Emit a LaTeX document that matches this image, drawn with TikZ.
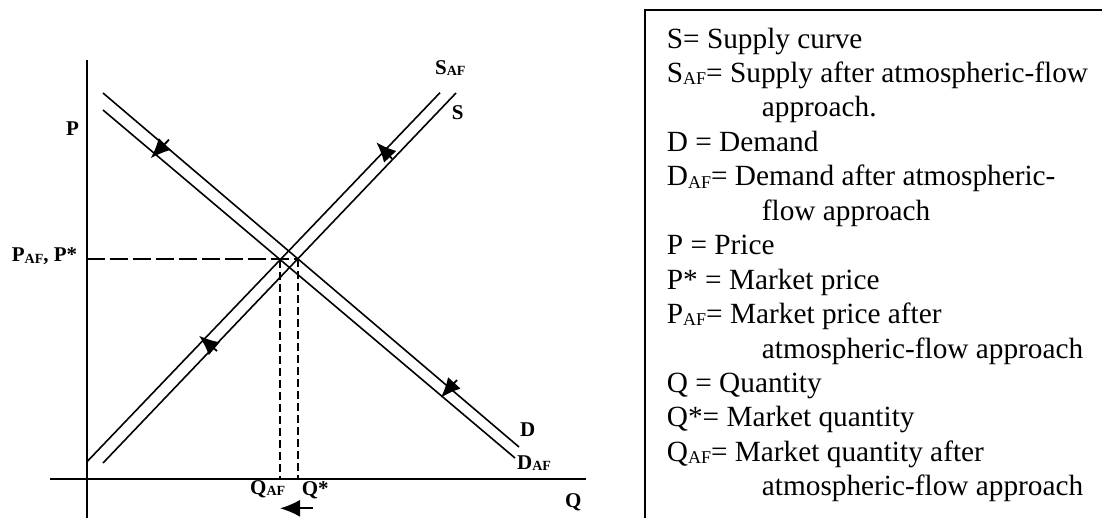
\documentclass[tikz,border=0pt]{standalone}
\usepackage{fontspec}
\setmainfont{Liberation Serif}
\usetikzlibrary{arrows.meta}
\newcommand{\legAF}{\raisebox{-2.3pt}{\fontsize{18}{18}\selectfont AF}}
\newcommand{\grAF}{\raisebox{-1.5pt}{\fontsize{14}{14}\selectfont\bfseries AF}}
\begin{document}
\begin{tikzpicture}[x=1pt,y=-1pt,
  curve/.style={line width=1.6pt},
  axisline/.style={line width=2pt},
  guide/.style={line width=1.6pt, dash pattern=on 8pt off 4pt},
  pguide/.style={line width=2.4pt, dash pattern=on 18pt off 5pt},
  shiftarrow/.style={line width=1.8pt,-{Latex[length=20pt,width=17pt]}},
  glabel/.style={inner sep=0pt, anchor=base west, font=\fontsize{21}{21}\selectfont\bfseries},
  legline/.style={inner sep=0pt, anchor=base west, font=\fontsize{29.3}{34.45}\selectfont}]
\useasboundingbox (0,0) rectangle (1102,517);
\clip (0,0) rectangle (1102,517);

% axes
\coordinate (ytop) at (86.7,60);
\coordinate (ybot) at (86.7,520);
\coordinate (xleft) at (50,479);
\coordinate (xright) at (586,479);
\draw[axisline] (ytop) -- (ybot);
\draw[axisline] (xleft) -- (xright);

% curves
\coordinate (D1) at (103,93);    \coordinate (D2) at (519,447);
\coordinate (DA1) at (103,110);  \coordinate (DA2) at (515,458);
\coordinate (S1) at (103,463);   \coordinate (S2) at (456,93);
\coordinate (SA1) at (87,461.7); \coordinate (SA2) at (440,92.7);
\draw[curve] (D1) -- (D2);
\draw[curve] (DA1) -- (DA2);
\draw[curve] (S1) -- (S2);
\draw[curve] (SA1) -- (SA2);

% equilibria
\coordinate (E) at (intersection of S1--S2 and D1--D2);
\coordinate (EA) at (intersection of SA1--SA2 and DA1--DA2);
\coordinate (pax) at (ytop |- E);
\draw[pguide] (pax) -- (E);
\draw[guide] (E) -- (E |- xleft);
\draw[guide] (EA) -- (EA |- xleft);

% shift arrows
\coordinate (a1t) at (169,139.7);  \coordinate (a1h) at (150.7,158.3);
\coordinate (a2t) at (457,380);    \coordinate (a2h) at (440.8,397.7);
\coordinate (a3t) at (392,158.7);  \coordinate (a3h) at (376.3,142.3);
\coordinate (a4t) at (217,351);    \coordinate (a4h) at (199,335.7);
\coordinate (a5t) at (313,508.3);  \coordinate (a5h) at (280,508.3);
\draw[shiftarrow] (a1t) -- (a1h);
\draw[shiftarrow] (a2t) -- (a2h);
\draw[shiftarrow] (a3t) -- (a3h);
\draw[shiftarrow] (a4t) -- (a4h);
\draw[shiftarrow] (a5t) -- (a5h);

% graph labels
\node[glabel] (lP) at (66,135) {P};
\node[glabel] (lPAF) at (11.7,261.5) {P\grAF, P*};
\node[glabel] (lSAF) at (435,74) {S\grAF};
\node[glabel] (lS) at (451.7,119) {S};
\node[glabel] (lD) at (520,436.5) {D};
\node[glabel] (lDAF) at (517,469) {D\grAF};
\node[glabel] (lQ) at (565,507) {Q};
\node[glabel] (lQAF) at (250,494) {Q\grAF};
\node[glabel] (lQs) at (301.7,495) {Q*};

% legend box
\draw[axisline] (645,530) |- (1120,10);
\node[legline] (g1) at (666.7,48) {S= Supply curve};
\node[legline] (g2) at (666.7,82.45) {S\legAF= Supply after atmospheric-flow};
\node[legline] (g3) at (761.7,116.9) {approach.};
\node[legline] (g4) at (666.7,151.35) {D = Demand};
\node[legline] (g5) at (666.7,185.8) {D\legAF= Demand after atmospheric-};
\node[legline] (g6) at (761.7,220.25) {flow approach};
\node[legline] (g7) at (666.7,254.7) {P = Price};
\node[legline] (g8) at (666.7,289.15) {P* = Market price};
\node[legline] (g9) at (666.7,323.6) {P\legAF= Market price after};
\node[legline] (g10) at (761.7,358.05) {atmospheric-flow approach};
\node[legline] (g11) at (666.7,392.5) {Q = Quantity};
\node[legline] (g12) at (666.7,426.95) {Q*= Market quantity};
\node[legline] (g13) at (666.7,461.4) {Q\legAF= Market quantity after};
\node[legline] (g14) at (761.7,495.85) {atmospheric-flow approach};
\end{tikzpicture}
\end{document}
